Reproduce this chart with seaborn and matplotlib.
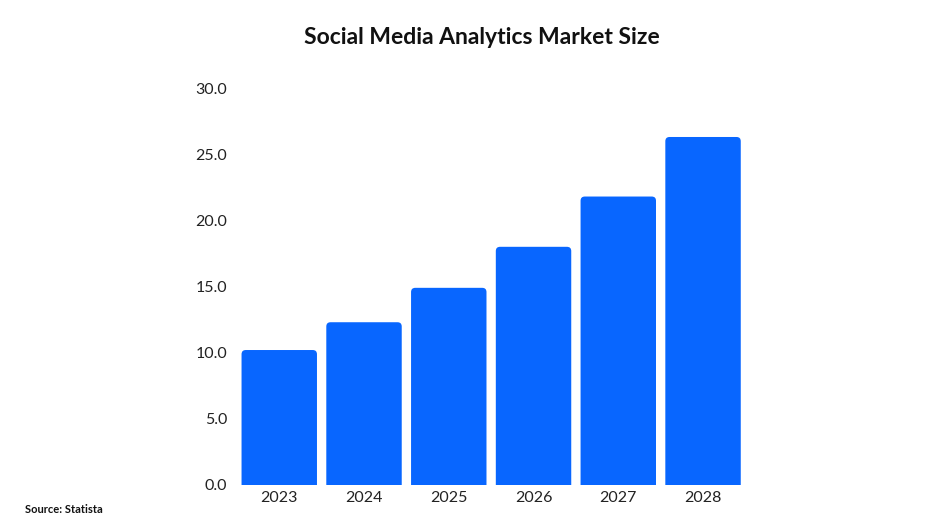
import matplotlib
matplotlib.use("Agg")
import matplotlib.pyplot as plt
import seaborn as sns
import pandas as pd
from matplotlib.patches import FancyBboxPatch

years = ["2023", "2024", "2025", "2026", "2027", "2028"]
market_size = [10.2, 12.3, 14.9, 18.0, 21.8, 26.3]
y_ticks = [0, 5, 10, 15, 20, 25, 30]
title = "Social Media Analytics Market Size"
source = "Source: Statista"

sns.set_theme(style="white")
plt.rcParams["font.family"] = ["Lato", "DejaVu Sans"]

df = pd.DataFrame({"year": years, "size": market_size})

fig = plt.figure(figsize=(9.4, 5.29), dpi=100)
ax = fig.add_axes([0.252, 0.0832, 0.541, 0.7504])
sns.barplot(data=df, x="year", y="size", color="#0866FF", saturation=1,
            width=0.89, ax=ax)

# replace bars with rounded-top versions
bars = list(ax.patches)
for p in bars:
    x0, w, h = p.get_x(), p.get_width(), p.get_height()
    p.remove()
    fb = FancyBboxPatch((x0, -1), w, h + 1,
                        boxstyle="round,pad=0,rounding_size=0.05",
                        mutation_aspect=6.4, facecolor="#0866FF",
                        edgecolor="none", clip_on=True)
    ax.add_patch(fb)

ax.set_xlim(-0.5, 5.5)
ax.set_ylim(0, 30)
ax.set_yticks(y_ticks)
ax.set_yticklabels([f"{v:.1f}" for v in y_ticks])
ax.set_xlabel("")
ax.set_ylabel("")
for s in ax.spines.values():
    s.set_visible(False)
ax.tick_params(axis="both", length=0, labelsize=11.5, colors="#222222")
ax.tick_params(axis="y", pad=7)
ax.tick_params(axis="x", pad=4)

fig.text(0.513, 0.93, title, ha="center", va="center", fontsize=16.5,
         fontweight="bold", color="#111111")
fig.text(0.027, 0.036, source, ha="left", va="center", fontsize=8,
         fontweight="bold", color="#111111")

fig.savefig("out.png", dpi=100, facecolor="white")
